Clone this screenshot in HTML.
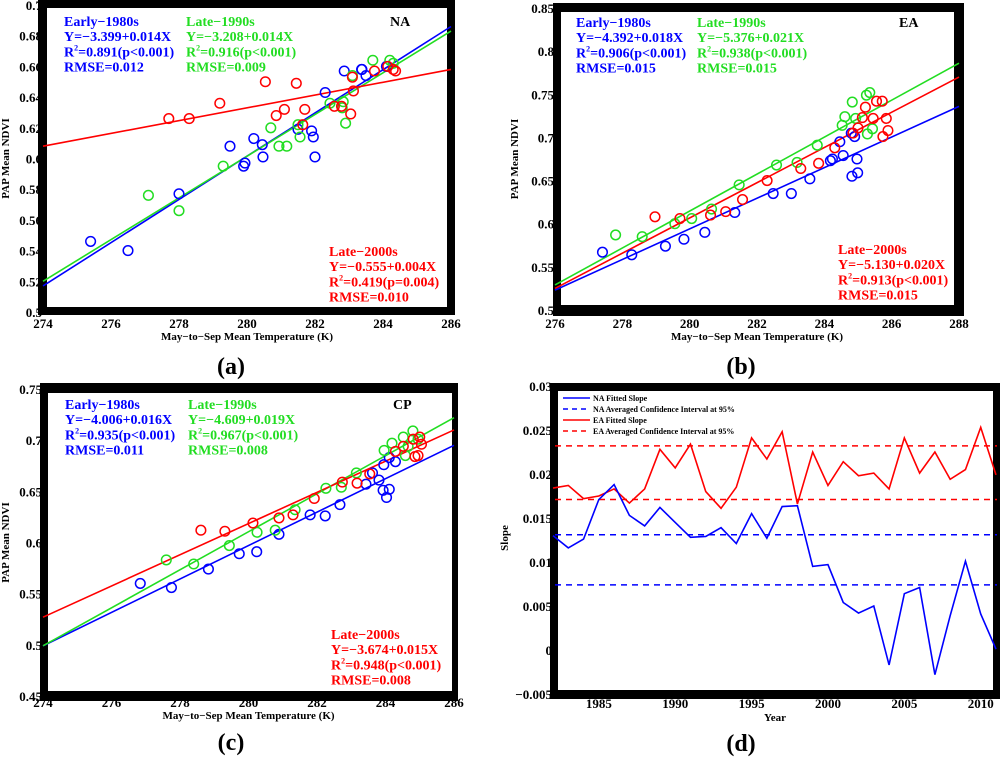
<!DOCTYPE html>
<html><head><meta charset="utf-8"><style>
body{margin:0;background:#fff;}
svg{display:block;font-family:"Liberation Serif",serif;font-weight:bold;}
</style></head><body>
<svg id="fig" width="1000" height="766" viewBox="0 0 1000 766" xmlns="http://www.w3.org/2000/svg"></svg>
<script>
// ---- Panel (a) NA data ----
const naBlueX=[275.4,276.5,278.0,279.5,279.9,279.94,280.2,280.45,280.47,281.5,281.9,281.95,282.0,282.3,282.86,283.37,283.38,283.5,284.1];
const naBlueY=[0.546,0.540,0.577,0.608,0.595,0.597,0.613,0.609,0.601,0.619,0.618,0.614,0.601,0.643,0.657,0.658,0.658,0.654,0.660];
const naGreenX=[277.1,278.0,279.3,280.7,280.94,281.17,281.5,281.56,282.44,282.83,282.8,282.9,283.1,283.7,284.2,284.3];
const naGreenY=[0.576,0.566,0.595,0.620,0.608,0.608,0.622,0.614,0.636,0.637,0.633,0.623,0.654,0.664,0.664,0.662];
const naRedX=[277.7,278.3,279.2,280.54,280.86,281.1,281.45,281.7,281.64,282.57,282.78,283.05,283.13,283.1,283.75,284.14,284.3,284.37];
const naRedY=[0.626,0.626,0.636,0.650,0.628,0.632,0.649,0.632,0.622,0.634,0.634,0.629,0.644,0.653,0.657,0.660,0.658,0.657];
const naFitStart=[0.517,0.520,0.608]; // blue, green, red at x-min
const naFitEnd=[0.686,0.683,0.658];
// ---- Panel (b) EA data ----
const eaBlueX=[277.41,278.28,279.28,279.83,280.45,281.34,282.48,283.02,283.57,284.18,284.24,284.46,284.56,284.82,284.8,284.9,284.97,284.99];
const eaBlueY=[0.567,0.564,0.574,0.582,0.590,0.613,0.635,0.635,0.652,0.673,0.675,0.695,0.679,0.655,0.705,0.701,0.675,0.659];
const eaGreenX=[277.8,278.59,279.56,280.06,280.65,281.47,282.58,283.19,283.79,284.53,284.61,284.83,284.93,285.25,285.35,285.28,285.43];
const eaGreenY=[0.587,0.585,0.600,0.606,0.617,0.645,0.668,0.671,0.691,0.714,0.724,0.741,0.722,0.749,0.752,0.704,0.710];
const eaRedX=[278.97,279.71,280.62,281.07,281.57,282.3,283.3,283.83,284.31,284.85,285.0,285.13,285.22,285.45,285.55,285.72,285.84,285.89,285.74];
const eaRedY=[0.608,0.606,0.610,0.614,0.628,0.650,0.664,0.670,0.688,0.705,0.711,0.723,0.735,0.722,0.742,0.742,0.722,0.708,0.701];
const eaFitStart=[0.523,0.529,0.525];
const eaFitEnd=[0.736,0.786,0.770];
// ---- Panel (c) CP data ----
const cpBlueX=[276.84,277.75,278.83,279.73,280.24,280.89,281.8,282.24,282.67,283.43,283.81,283.93,284.03,284.11,283.95,284.11,284.29,283.62];
const cpBlueY=[0.560,0.556,0.574,0.589,0.591,0.608,0.627,0.626,0.637,0.657,0.661,0.651,0.644,0.652,0.676,0.683,0.679,0.668];
const cpGreenX=[277.6,278.4,279.44,280.25,280.78,281.36,282.26,282.71,283.15,283.96,284.19,284.52,284.58,284.8,284.66,284.95];
const cpGreenY=[0.583,0.579,0.597,0.610,0.612,0.632,0.653,0.654,0.668,0.690,0.697,0.703,0.685,0.709,0.694,0.701];
const cpRedX=[278.61,279.31,280.13,280.89,281.3,281.92,282.74,283.17,283.54,284.29,284.52,284.81,284.86,284.95,285.0,285.05];
const cpRedY=[0.612,0.611,0.619,0.624,0.627,0.643,0.659,0.658,0.667,0.689,0.694,0.701,0.684,0.685,0.703,0.696];
const cpFitStart=[0.499,0.499,0.527];
const cpFitEnd=[0.695,0.722,0.710];
// ---- Panel (d) slope data ----
const years=[1982,1983,1984,1985,1986,1987,1988,1989,1990,1991,1992,1993,1994,1995,1996,1997,1998,1999,2000,2001,2002,2003,2004,2005,2006,2007,2008,2009,2010,2011];
const naSlope=[0.0130,0.0116,0.0126,0.0171,0.0188,0.0153,0.0141,0.0162,0.0145,0.0128,0.0129,0.0139,0.0121,0.0155,0.0127,0.0163,0.0164,0.0095,0.0097,0.0054,0.0042,0.0050,-0.0017,0.0064,0.0071,-0.0028,0.0039,0.0101,0.0041,0.0001];
const eaSlope=[0.0184,0.0187,0.0172,0.0175,0.0183,0.0167,0.0183,0.0228,0.0207,0.0234,0.0180,0.0161,0.0185,0.0241,0.0217,0.0248,0.0166,0.0225,0.0187,0.0214,0.0198,0.0201,0.0183,0.0241,0.0201,0.0225,0.0194,0.0205,0.0253,0.0199];
const naCI=[0.0131,0.0074];
const eaCI=[0.0232,0.0171];
const slopeTicks=["\u22120.005","0","0.005","0.01","0.015","0.02","0.025","0.03"];
const slopeTickVals=[-0.005,0,0.005,0.01,0.015,0.02,0.025,0.03];
const yearTicks=[1985,1990,1995,2000,2005,2010];

const NS="http://www.w3.org/2000/svg";
const svg=document.getElementById('fig');
const BLUE="#0000ff",GREEN="#22dd22",RED="#ff0000";
function mk(tag,attrs,parent){const e=document.createElementNS(NS,tag);for(const k in attrs)e.setAttribute(k,attrs[k]);(parent||svg).appendChild(e);return e;}
function txt(x,y,s,size,fill,anchor,parent){const t=mk('text',{x:x,y:y,'font-size':size,fill:fill||'#000','text-anchor':anchor||'start'},parent);t.textContent=s;return t;}

function scatterPanel(cfg){
  const g=mk('g',{});
  
  
  const sx=v=>cfg.px0+(v-cfg.x0)/(cfg.x1-cfg.x0)*(cfg.px1-cfg.px0);
  const sy=v=>cfg.py0+(v-cfg.y0)/(cfg.y1-cfg.y0)*(cfg.py1-cfg.py0);
  cfg.yticks.forEach((v,i)=>{const t=txt(cfg.px0-1,sy(v)+5,cfg.ylabels[i],13,'#000','end',g);
    });
  cfg.xticks.forEach(v=>{const t=txt(sx(v),cfg.xtickY,String(v),13,'#000','middle',g);
    });
  const xt=txt((cfg.px0+cfg.px1)/2,cfg.xtickY+12,'May\u2212to\u2212Sep Mean Temperature (K)',11,'#000','middle',g);
  
  const yt=txt(0,0,'PAP Mean NDVI',11,'#000','middle',g);
  yt.setAttribute('transform',`translate(${cfg.ytitleX},${(cfg.py0+cfg.py1)/2}) rotate(-90)`);
  
  const f=cfg.frame;
  const fr=mk('path',{d:`M${f[0]},${f[1]}H${f[2]}V${f[3]}H${f[0]}Z M${f[4]},${f[5]}V${f[7]}H${f[6]}V${f[5]}Z`,fill:'#000','fill-rule':'evenodd'},g);
  
  const cols=[BLUE,GREEN,RED];
  cols.forEach((c,i)=>{const l=mk('line',{x1:sx(cfg.x0),y1:sy(cfg.fitStart[i]),x2:sx(cfg.x1),y2:sy(cfg.fitEnd[i]),stroke:c,'stroke-width':1.6},g);
    });
  cfg.series.forEach((s,i)=>{s[0].forEach((xv,j)=>{const p=mk('circle',{cx:sx(xv),cy:sy(s[1][j]),r:4.8,fill:'none',stroke:cols[i],'stroke-width':1.5},g);
    });});
  const ann=(x,y,lines,c,nm)=>{const a=mk('g',{},g);
    lines.forEach((s,k)=>{const t=txt(x,y+k*15.2,'',14,c,'start',a);
      if(s.indexOf('R2')===0){t.appendChild(document.createTextNode('R'));const sp=mk('tspan',{'font-size':8,dy:-6},t);sp.textContent='2';const r=mk('tspan',{dy:6},t);r.textContent=s.slice(2);}
      else t.textContent=s;});};
  ann(cfg.ann[0][0],cfg.ann[0][1],cfg.txt[0],BLUE,'annotation-early-1980s');
  ann(cfg.ann[1][0],cfg.ann[1][1],cfg.txt[1],GREEN,'annotation-late-1990s');
  ann(cfg.ann[2][0],cfg.ann[2][1],cfg.txt[2],RED,'annotation-late-2000s');
  const rl=txt(cfg.region[0],cfg.region[1],cfg.region[2],14,'#000','start',g);
  
}

scatterPanel({name:'panel-a-na',x0:274,x1:286,px0:43,px1:451,y0:0.7,y1:0.5,py0:5,py1:312,
  yticks:[0.5,0.52,0.54,0.56,0.58,0.6,0.62,0.64,0.66,0.68,0.7],ylabels:['0.5','0.52','0.54','0.56','0.58','0.6','0.62','0.64','0.66','0.68','0.7'],
  xticks:[274,276,278,280,282,284,286],xtickY:328,ytitleX:9,frame:[38,0,455,315,47,8,447,307],
  fitStart:naFitStart,fitEnd:naFitEnd,series:[[naBlueX,naBlueY],[naGreenX,naGreenY],[naRedX,naRedY]],
  ann:[[64,26],[186,26],[329,256]],region:[390,26,'NA'],
  txt:[['Early\u22121980s','Y=\u22123.399+0.014X','R2=0.891(p<0.001)','RMSE=0.012'],['Late\u22121990s','Y=\u22123.208+0.014X','R2=0.916(p<0.001)','RMSE=0.009'],['Late\u22122000s','Y=\u22120.555+0.004X','R2=0.419(p=0.004)','RMSE=0.010']]});

scatterPanel({name:'panel-b-ea',x0:276,x1:288,px0:555,px1:959,y0:0.85,y1:0.5,py0:8,py1:310,
  yticks:[0.5,0.55,0.6,0.65,0.7,0.75,0.8,0.85],ylabels:['0.5','0.55','0.6','0.65','0.7','0.75','0.8','0.85'],
  xticks:[276,278,280,282,284,286,288],xtickY:328,ytitleX:518,frame:[553,3,964,316,561,12,954,305],
  fitStart:eaFitStart,fitEnd:eaFitEnd,series:[[eaBlueX,eaBlueY],[eaGreenX,eaGreenY],[eaRedX,eaRedY]],
  ann:[[576,27],[697,27],[838,254]],region:[899,27,'EA'],
  txt:[['Early\u22121980s','Y=\u22124.392+0.018X','R2=0.906(p<0.001)','RMSE=0.015'],['Late\u22121990s','Y=\u22125.376+0.021X','R2=0.938(p<0.001)','RMSE=0.015'],['Late\u22122000s','Y=\u22125.130+0.020X','R2=0.913(p<0.001)','RMSE=0.015']]});

scatterPanel({name:'panel-c-cp',x0:274,x1:286,px0:43,px1:454,y0:0.75,y1:0.45,py0:389,py1:696,
  yticks:[0.45,0.5,0.55,0.6,0.65,0.7,0.75],ylabels:['0.45','0.5','0.55','0.6','0.65','0.7','0.75'],
  xticks:[274,276,278,280,282,284,286],xtickY:707,ytitleX:9,frame:[40,383,458,701,48,393,452,691],
  fitStart:cpFitStart,fitEnd:cpFitEnd,series:[[cpBlueX,cpBlueY],[cpGreenX,cpGreenY],[cpRedX,cpRedY]],
  ann:[[65,409],[188,409],[331,639]],region:[393,409,'CP'],
  txt:[['Early\u22121980s','Y=\u22124.006+0.016X','R2=0.935(p<0.001)','RMSE=0.011'],['Late\u22121990s','Y=\u22124.609+0.019X','R2=0.967(p<0.001)','RMSE=0.008'],['Late\u22122000s','Y=\u22123.674+0.015X','R2=0.948(p<0.001)','RMSE=0.008']]});

(function(){
  const g=mk('g',{});
  
  
  const sx=v=>553+(v-1982)/(2011-1982)*(996-553);
  const sy=v=>650-v/0.005*44;
  slopeTickVals.forEach((v,i)=>{const t=txt(552,sy(v)+5,slopeTicks[i],13,'#000','end',g);
    });
  yearTicks.forEach(v=>{const t=txt(sx(v),708,String(v),13,'#000','middle',g);
    });
  const xt=txt(775,721,'Year',11,'#000','middle',g);
  
  const yt=txt(0,0,'Slope',11,'#000','middle',g);
  yt.setAttribute('transform','translate(508,538) rotate(-90)');
  
  const fr=mk('path',{d:'M550,383H1000V699H550Z M558,391V690H993V391Z',fill:'#000','fill-rule':'evenodd'},g);
  
  naCI.forEach(v=>{const l=mk('line',{x1:555,x2:997,y1:sy(v),y2:sy(v),stroke:BLUE,'stroke-width':1.5,'stroke-dasharray':'6,5'},g);
    });
  eaCI.forEach(v=>{const l=mk('line',{x1:555,x2:997,y1:sy(v),y2:sy(v),stroke:RED,'stroke-width':1.5,'stroke-dasharray':'6,5'},g);
    });
  const lineOf=(vals,c,nm)=>{const p=mk('polyline',{points:years.map((y,i)=>sx(y)+','+sy(vals[i])).join(' '),fill:'none',stroke:c,'stroke-width':1.6},g);
    };
  lineOf(eaSlope,RED,'ea-slope-line');
  lineOf(naSlope,BLUE,'na-slope-line');
  const leg=mk('g',{},g);
  
  
  [['NA Fitted Slope',BLUE,''],['NA Averaged Confidence Interval at 95%',BLUE,'5,4'],['EA Fitted Slope',RED,''],['EA Averaged Confidence Interval at 95%',RED,'5,4']].forEach((e,i)=>{
    const y=398+i*11;
    const ent=mk('g',{},leg);
    
    
    mk('line',{x1:563,x2:590,y1:y,y2:y,stroke:e[1],'stroke-width':1.5,'stroke-dasharray':e[2]||'none'},ent);
    txt(593,y+3,e[0],8,'#000','start',ent);
  });
})();

[['(a)',231,374],['(b)',741,374],['(c)',231,750],['(d)',741,751]].forEach(c=>{
  const t=txt(c[1],c[2],c[0],24,'#000','middle');
  
  
});
</script>
</body></html>
